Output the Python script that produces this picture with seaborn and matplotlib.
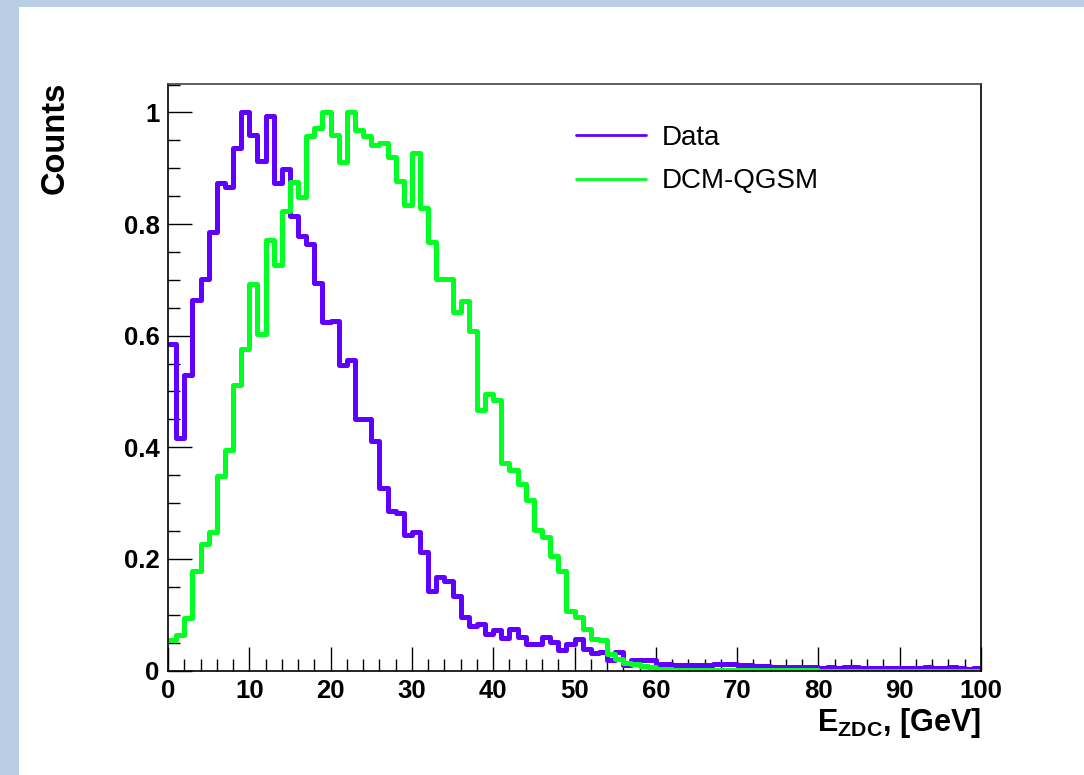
import numpy as np
import pandas as pd
import seaborn as sns
import matplotlib.pyplot as plt
from matplotlib.lines import Line2D
from matplotlib.patches import Rectangle
from matplotlib.ticker import MultipleLocator, FormatStrFormatter

# 1 GeV bins, 0..100 GeV
bin_centers = np.arange(100) + 0.5

data_counts = [
    0.585, 0.416, 0.529, 0.664, 0.701, 0.786, 0.873, 0.867, 0.936, 1.000,
    0.960, 0.913, 0.994, 0.874, 0.898, 0.815, 0.778, 0.765, 0.695, 0.624,
    0.627, 0.548, 0.556, 0.451, 0.450, 0.411, 0.327, 0.285, 0.283, 0.242,
    0.248, 0.212, 0.142, 0.167, 0.161, 0.133, 0.096, 0.079, 0.084, 0.066,
    0.072, 0.059, 0.075, 0.060, 0.048, 0.048, 0.060, 0.051, 0.036, 0.047,
    0.057, 0.039, 0.031, 0.033, 0.018, 0.033, 0.010, 0.019, 0.019, 0.019,
    0.012, 0.011, 0.009, 0.010, 0.010, 0.009, 0.010, 0.012, 0.012, 0.011,
    0.009, 0.010, 0.008, 0.008, 0.007, 0.006, 0.006, 0.006, 0.007, 0.006,
    0.004, 0.006, 0.004, 0.006, 0.006, 0.004, 0.004, 0.004, 0.004, 0.004,
    0.004, 0.004, 0.004, 0.006, 0.004, 0.004, 0.006, 0.004, 0.003, 0.004,
]

dcm_counts = [
    0.054, 0.063, 0.094, 0.178, 0.226, 0.248, 0.349, 0.395, 0.512, 0.577,
    0.692, 0.603, 0.771, 0.726, 0.824, 0.875, 0.849, 0.957, 0.972, 1.000,
    0.960, 0.912, 1.000, 0.969, 0.957, 0.942, 0.946, 0.921, 0.877, 0.834,
    0.928, 0.829, 0.768, 0.701, 0.701, 0.642, 0.662, 0.609, 0.467, 0.496,
    0.484, 0.372, 0.359, 0.334, 0.305, 0.251, 0.239, 0.206, 0.179, 0.106,
    0.096, 0.075, 0.057, 0.055, 0.029, 0.020, 0.014, 0.011, 0.008, 0.007,
    0.002, 0.003, 0.001, 0.001, 0.001, 0.001, 0.001, 0.001, 0.001, 0.001,
    0.001, 0.001, 0.001, 0.001, 0.001, 0.001, 0.001, 0.001, 0.001, 0.001,
    0.000, 0.000, 0.000, 0.000, 0.000, 0.000, 0.000, 0.000, 0.000, 0.000,
    0.000, 0.000, 0.000, 0.000, 0.000, 0.000, 0.000, 0.000, 0.000, 0.000,
]

series_labels = ["Data", "DCM-QGSM"]
series_colors = ["#6000ff", "#00ff22"]

sns.set_style("ticks")
plt.rcParams["font.family"] = ["Liberation Sans", "DejaVu Sans"]
plt.rcParams["mathtext.fontset"] = "custom"
plt.rcParams["mathtext.bf"] = "Liberation Sans:bold"
plt.rcParams["mathtext.rm"] = "Liberation Sans:bold"
plt.rcParams["text.color"] = "black"
plt.rcParams["xtick.color"] = "black"
plt.rcParams["ytick.color"] = "black"

fig = plt.figure(figsize=(10.84, 7.75), dpi=100, facecolor="#b9cde5")
# white canvas with the blue strip on left/top
fig.patches.append(Rectangle((19 / 1084, 0), 1, 1 - 7 / 775, transform=fig.transFigure,
                             facecolor="white", edgecolor="none", zorder=-1))
ax = fig.add_axes([168 / 1084, 1 - 670.5 / 775, 813 / 1084, 586.5 / 775])

for vals, col in zip([data_counts, dcm_counts], series_colors):
    df = pd.DataFrame({"E": bin_centers, "w": vals})
    sns.histplot(data=df, x="E", weights="w", binwidth=1, binrange=(0, 100),
                 element="step", fill=False, color=col, linewidth=3.6, ax=ax)

ax.set_xlim(0, 100)
ax.set_ylim(0, 1.051)
ax.set_xlabel("")
ax.set_ylabel("")

ax.xaxis.set_major_locator(MultipleLocator(10))
ax.xaxis.set_minor_locator(MultipleLocator(2))
ax.yaxis.set_major_locator(MultipleLocator(0.2))
ax.yaxis.set_minor_locator(MultipleLocator(0.05))
ax.yaxis.set_major_formatter(FormatStrFormatter("%g"))

ax.tick_params(which="both", direction="in", top=False, right=False, width=1.0,
               color="black", labelcolor="black")
ax.tick_params(which="major", length=17, labelsize=18.5, pad=6)
ax.tick_params(which="minor", length=8.5)
for lab in ax.get_xticklabels() + ax.get_yticklabels():
    lab.set_fontweight("bold")

for side in ["left", "bottom", "right", "top"]:
    ax.spines[side].set_visible(True)
    ax.spines[side].set_linewidth(1.2)
    ax.spines[side].set_color("black")
ax.spines["top"].set_color("#444444")

handles = [Line2D([], [], color=c, linewidth=2.0) for c in series_colors]
ax.legend(handles, series_labels, loc="upper left", bbox_to_anchor=(0.502, 0.93),
          frameon=False, fontsize=20, handlelength=2.5, handletextpad=0.6,
          labelspacing=0.62, borderpad=0, borderaxespad=0)

fig.text(55 / 1084, 1 - 82 / 775, "Counts", rotation=90, ha="center", va="top",
         fontsize=23.5, fontweight="bold", color="black")
fig.text(981 / 1084, 1 - 731 / 775, r"E$_{\mathbf{ZDC}}$, [GeV]", ha="right", va="baseline",
         fontsize=22, fontweight="bold", color="black")

fig.savefig("out.png", dpi=100, facecolor=fig.get_facecolor())
